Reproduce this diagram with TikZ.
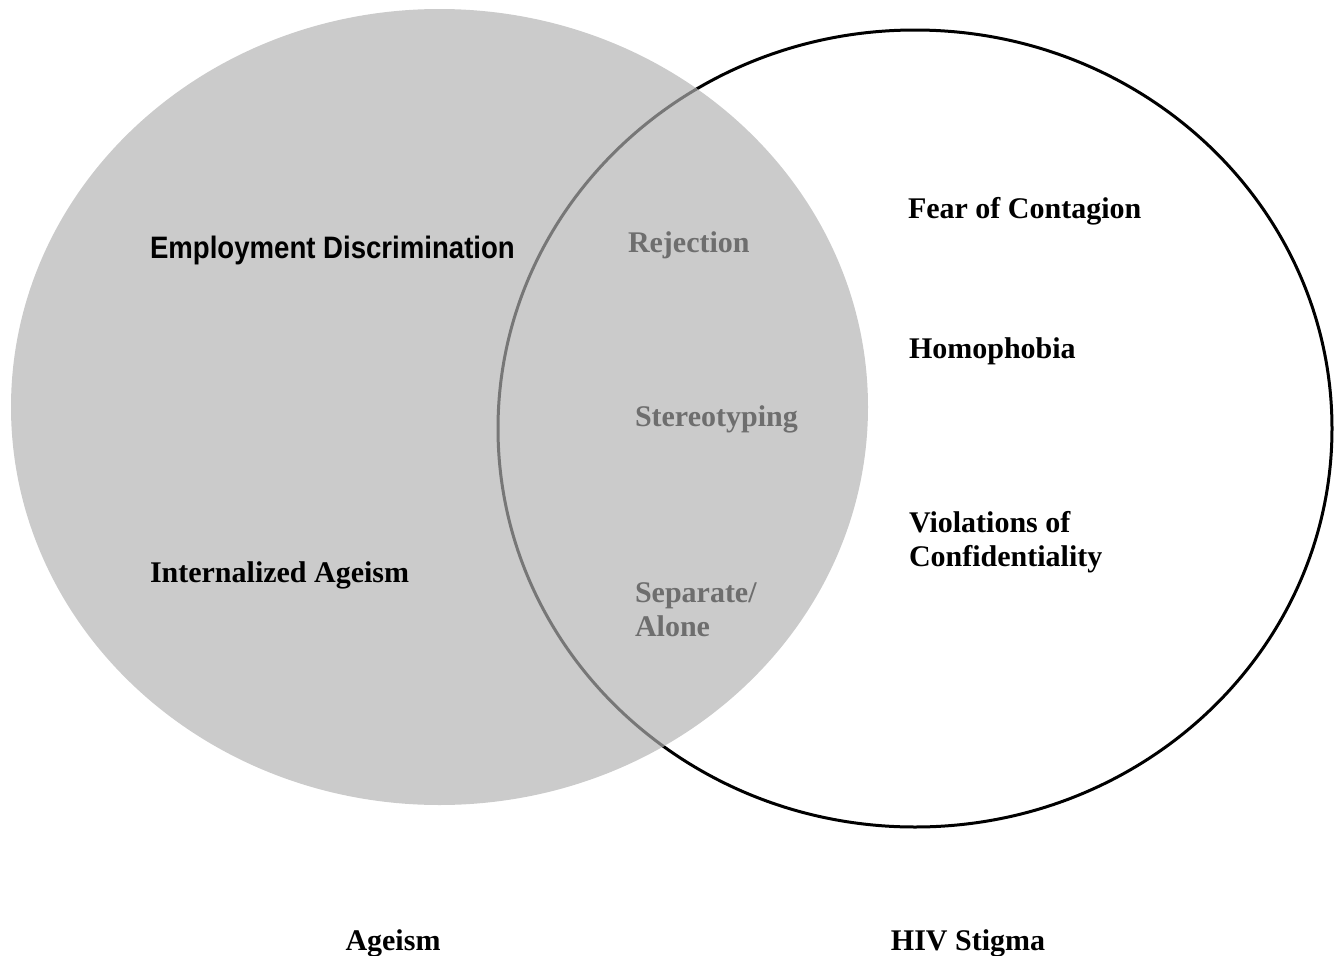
\documentclass[tikz,border=0pt]{standalone}
\usepackage{fontspec}
\setmainfont{Liberation Serif}
\newfontfamily\arialfont{Liberation Sans}
\definecolor{vennfill}{HTML}{CBCBCB}
\definecolor{overlaptext}{HTML}{6E6E6E}
\definecolor{overlapline}{HTML}{777777}
\begin{document}
\begin{tikzpicture}[x=1pt,y=-1pt,
  lbl/.style={anchor=base west,inner sep=0pt,outer sep=0pt,align=left,
    font=\fontsize{30}{34}\selectfont\bfseries},
  midlbl/.style={lbl,text=overlaptext},
  titlelbl/.style={anchor=base,inner sep=0pt,font=\fontsize{30}{34}\selectfont\bfseries}]
\useasboundingbox (0,0) rectangle (1342,956);
\coordinate (cl) at (439.5,407);
\coordinate (cr) at (915,428.5);
% right circle outline
\draw[line width=3pt,black] (cr) ellipse [x radius=417, y radius=398.5];
% left circle filled
\fill[vennfill] (cl) ellipse [x radius=428.5, y radius=398];
% part of right circle inside left circle
\begin{scope}
  \clip (cl) ellipse [x radius=428.5, y radius=398];
  \draw[line width=3pt,overlapline] (cr) ellipse [x radius=417, y radius=398.5];
\end{scope}
% labels
\node[lbl,font=\fontsize{31}{34}\selectfont\arialfont\bfseries] (emp) at (150,258) {\scalebox{0.89}[1]{Employment Discrimination}};
\node[lbl] (int) at (150,582) {Internalized Ageism};
\node[midlbl] (rej) at (628,252) {Rejection};
\node[midlbl] (ste) at (635,426) {Stereotyping};
\node[midlbl] (sep) at (635,636) {Separate/\\Alone};
\node[lbl] (fear) at (908,218) {Fear of Contagion};
\node[lbl] (hom) at (909,358) {Homophobia};
\node[lbl] (vio) at (909,566) {Violations of\\Confidentiality};
\node[titlelbl] (age) at (393,950) {Ageism};
\node[titlelbl] (hiv) at (968,950) {HIV Stigma};
\end{tikzpicture}
\end{document}
